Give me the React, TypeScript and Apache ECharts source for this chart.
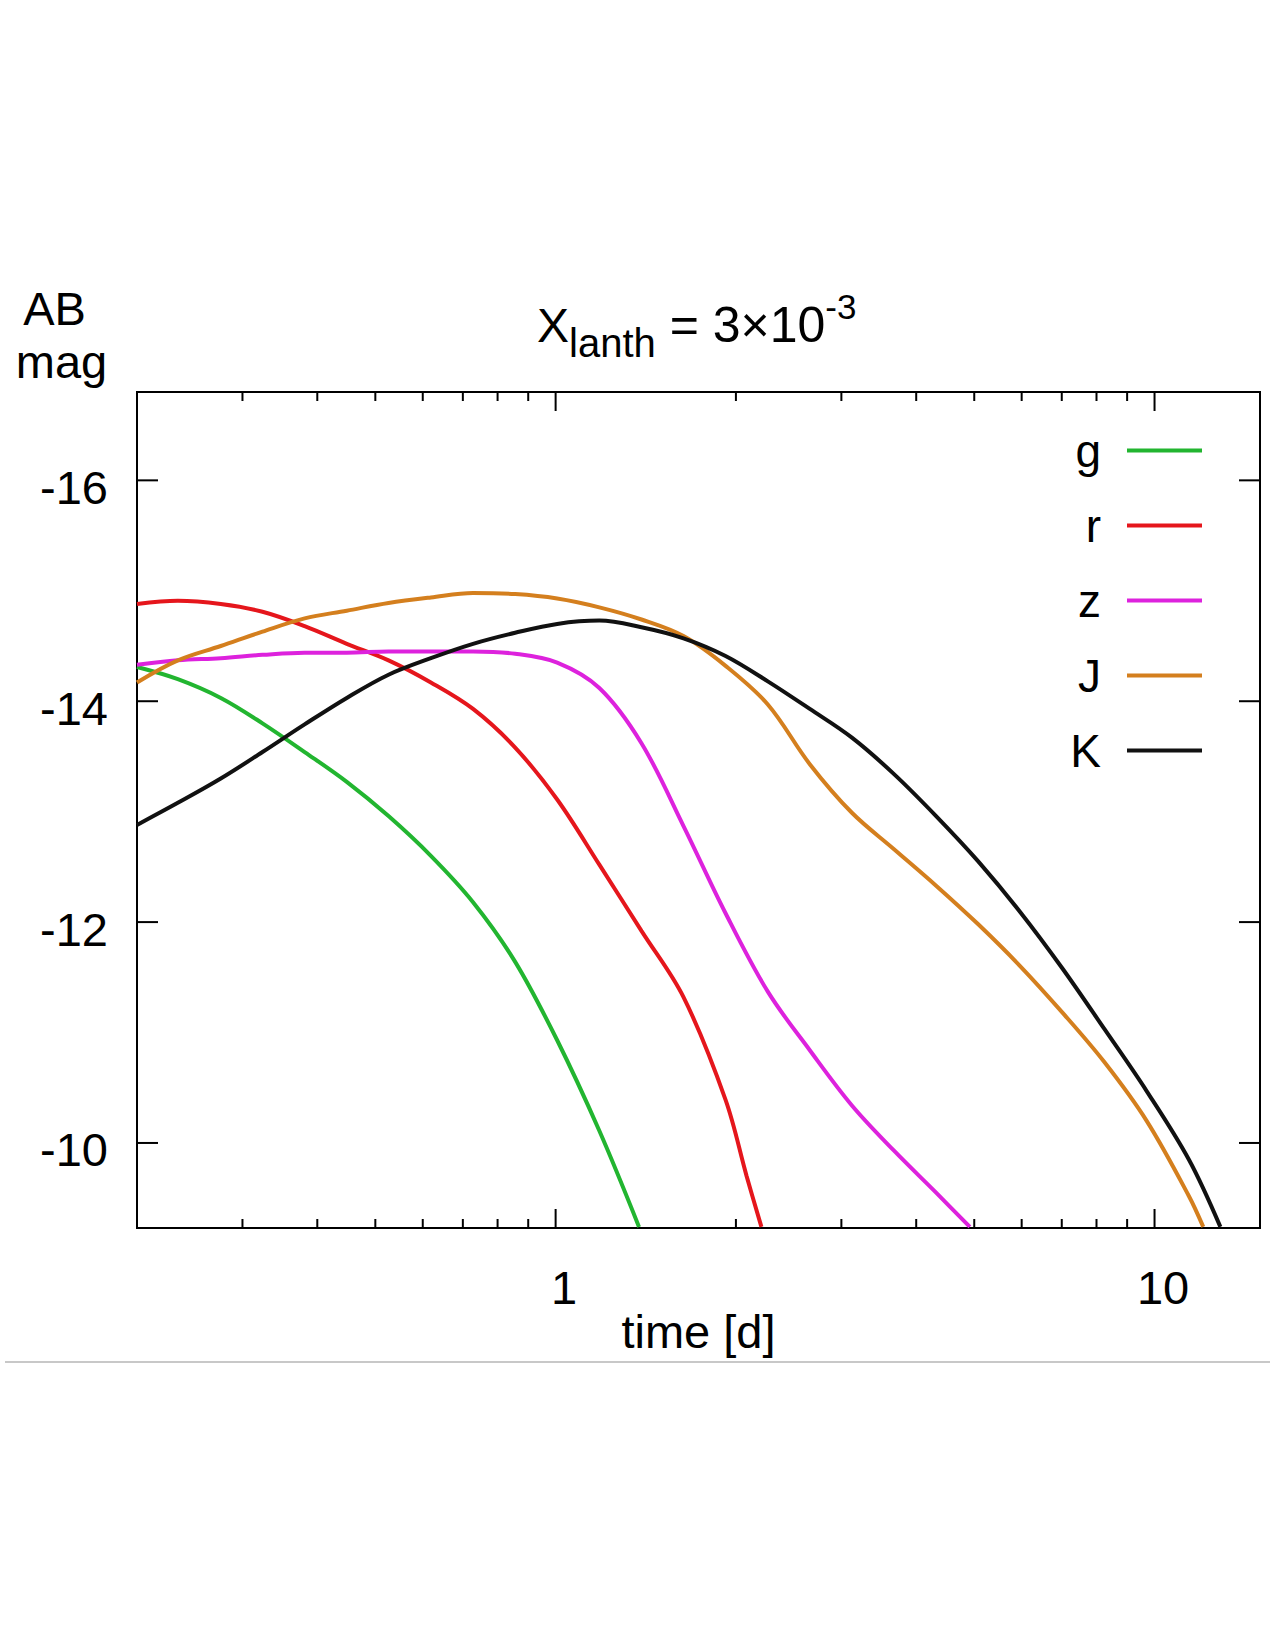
import { useEffect, useRef } from "react";
import * as echarts from "echarts";

// Axis extents: time in days (log scale), AB magnitude (brighter at the top)
const T_MIN = 0.2;
const T_MAX = 15;
const MAG_TOP = -16.8;
const MAG_BOTTOM = -9.23;

const X_MAJOR = [1, 10];
const X_MINOR = [0.3, 0.4, 0.5, 0.6, 0.7, 0.8, 0.9, 2, 3, 4, 5, 6, 7, 8, 9];
const Y_TICKS = [-16, -14, -12, -10];

// Light curves per band (time in days, AB magnitude)
const G_TIME = [0.2, 0.234, 0.276, 0.324, 0.381, 0.448, 0.526, 0.619, 0.728, 0.856, 1.006, 1.183, 1.378];
const G_MAG = [-14.31, -14.2, -14.03, -13.8, -13.54, -13.27, -12.96, -12.6, -12.18, -11.64, -10.93, -10.11, -9.24];

const R_TIME = [0.2, 0.234, 0.276, 0.324, 0.381, 0.448, 0.526, 0.619, 0.728, 0.856, 1.006, 1.183, 1.391, 1.635, 1.922, 2.084, 2.206];
const R_MAG = [-14.88, -14.91, -14.88, -14.81, -14.68, -14.52, -14.37, -14.17, -13.93, -13.58, -13.11, -12.52, -11.92, -11.32, -10.39, -9.7, -9.24];

const Z_TIME = [0.2, 0.234, 0.276, 0.324, 0.381, 0.448, 0.526, 0.619, 0.728, 0.856, 1.006, 1.183, 1.391, 1.635, 1.922, 2.261, 2.657, 3.124, 3.673, 4.318, 4.916];
const Z_MAG = [-14.33, -14.37, -14.39, -14.42, -14.44, -14.44, -14.45, -14.45, -14.45, -14.43, -14.35, -14.12, -13.62, -12.87, -12.08, -11.37, -10.84, -10.34, -9.93, -9.55, -9.24];

const J_TIME = [0.2, 0.234, 0.276, 0.324, 0.381, 0.448, 0.526, 0.619, 0.728, 0.856, 1.006, 1.183, 1.391, 1.635, 1.922, 2.261, 2.657, 3.124, 3.673, 4.318, 5.077, 5.969, 7.019, 8.251, 9.701, 11.41, 12.06];
const J_MAG = [-14.17, -14.37, -14.5, -14.63, -14.75, -14.82, -14.89, -14.94, -14.98, -14.97, -14.93, -14.85, -14.74, -14.59, -14.32, -13.97, -13.43, -12.99, -12.66, -12.33, -11.98, -11.6, -11.18, -10.73, -10.2, -9.52, -9.24];

const K_TIME = [0.2, 0.234, 0.276, 0.324, 0.381, 0.448, 0.526, 0.619, 0.728, 0.856, 1.006, 1.183, 1.391, 1.635, 1.922, 2.261, 2.657, 3.124, 3.673, 4.318, 5.077, 5.969, 7.019, 8.251, 9.701, 11.41, 12.88];
const K_MAG = [-12.88, -13.08, -13.3, -13.54, -13.79, -14.03, -14.24, -14.39, -14.52, -14.62, -14.7, -14.73, -14.67, -14.57, -14.41, -14.18, -13.93, -13.67, -13.34, -12.96, -12.55, -12.09, -11.58, -11.03, -10.47, -9.85, -9.24];

const BANDS = [
  { name: "g", time: G_TIME, mag: G_MAG, color: "#22b530" },
  { name: "r", time: R_TIME, mag: R_MAG, color: "#e5161c" },
  { name: "z", time: Z_TIME, mag: Z_MAG, color: "#dd22dd" },
  { name: "J", time: J_TIME, mag: J_MAG, color: "#d47f1e" },
  { name: "K", time: K_TIME, mag: K_MAG, color: "#111111" },
];

const FONT = '"Liberation Sans", Arial, Helvetica, sans-serif';

const isDecade = (v: number) => {
  const l = Math.log10(v);
  return Math.abs(l - Math.round(l)) < 1e-6;
};

const isEvenMag = (v: number) =>
  Math.abs(v - Math.round(v)) < 1e-6 && Math.round(v) % 2 === 0;

export default function App() {
  const ref = useRef<HTMLDivElement>(null);

  useEffect(() => {
    if (!ref.current) return;
    const chart = echarts.init(ref.current, null, { renderer: "svg" });

    const lineSeries = BANDS.map((b) => ({
      name: b.name,
      type: "line",
      data: b.time.map((t, i) => [t, b.mag[i]]),
      symbol: "none",
      smooth: 0.35,
      clip: true,
      z: 3,
      lineStyle: { color: b.color, width: 4 },
      itemStyle: { color: b.color },
    }));

    const tickStyle = { stroke: "#000", lineWidth: 2 };
    const labelText = { fontFamily: FONT, fontSize: 47, color: "#000" };

    chart.setOption({
      animation: false,
      backgroundColor: "#ffffff",
      textStyle: { fontFamily: FONT, color: "#000" },
      title: {
        text: "{x|X}{sub|lanth}{m| = 3×10}{sup|-3}",
        left: 537,
        top: 304,
        padding: 0,
        textStyle: {
          fontFamily: FONT,
          fontWeight: "normal",
          rich: {
            x: { fontFamily: FONT, fontSize: 48, lineHeight: 48, color: "#000", padding: [12, 0, 20, 0] },
            sub: { fontFamily: FONT, fontSize: 40, lineHeight: 40, color: "#000", padding: [34, 0, 6, 0] },
            m: { fontFamily: FONT, fontSize: 50, lineHeight: 50, color: "#000", padding: [11, 0, 19, 0] },
            sup: { fontFamily: FONT, fontSize: 35, lineHeight: 35, color: "#000", padding: [0, 0, 45, 0] },
          },
        },
      },
      legend: {
        data: BANDS.map((b) => b.name),
        orient: "vertical",
        right: 71,
        top: 415,
        align: "right",
        padding: 0,
        itemWidth: 75,
        itemHeight: 46,
        itemGap: 4,
        selectedMode: false,
        itemStyle: { opacity: 0 },
        lineStyle: { width: 4 },
        textStyle: {
          fontFamily: FONT,
          fontSize: 46,
          lineHeight: 30,
          color: "#000",
          width: 40,
          align: "right",
          padding: [41, 21, 0, 0],
        },
      },
      grid: {
        left: 137,
        right: 15,
        top: 392,
        bottom: 422,
        show: true,
        borderColor: "#000",
        borderWidth: 2,
        backgroundColor: "transparent",
      },
      xAxis: {
        type: "log",
        logBase: 10,
        min: T_MIN,
        max: T_MAX,
        axisLine: { show: false },
        axisTick: { show: false },
        splitLine: { show: false },
        minorTick: { show: false },
        axisLabel: {
          formatter: (v: number) => (isDecade(v) ? `{v|${Math.round(v)}}` : ""),
          ...labelText,
          margin: 36,
          rich: { v: { ...labelText, padding: [0, 0, 0, 17] } },
        },
        name: "time [d]",
        nameLocation: "middle",
        nameGap: 80,
        nameMoveOverlap: false,
        nameTextStyle: { ...labelText },
      },
      yAxis: {
        type: "value",
        inverse: true,
        min: MAG_TOP,
        max: MAG_BOTTOM,
        interval: 0.4,
        axisLine: { show: false },
        axisTick: { show: false },
        splitLine: { show: false },
        axisLabel: {
          formatter: (v: number) => (isEvenMag(v) ? `{v|${Math.round(v)}}` : ""),
          ...labelText,
          margin: 29,
          rich: { v: { ...labelText, lineHeight: 47, padding: [14, 0, 0, 0] } },
        },
      },
      graphic: [
        {
          type: "text",
          x: 54.5,
          y: 308,
          style: { text: "AB", font: `47px ${FONT}`, fill: "#000", align: "center", verticalAlign: "middle" },
        },
        {
          type: "text",
          x: 61.5,
          y: 361,
          style: { text: "mag", font: `47px ${FONT}`, fill: "#000", align: "center", verticalAlign: "middle" },
        },
        {
          type: "line",
          shape: { x1: 5, y1: 1362, x2: 1270, y2: 1362 },
          style: { stroke: "#c8c8c8", lineWidth: 2 },
        },
      ],
      series: [
        ...lineSeries,
        {
          // time ticks, drawn inward on the bottom and top edges
          type: "custom",
          silent: true,
          z: 5,
          data: [
            ...X_MINOR.map((t) => [t, MAG_BOTTOM, 0]),
            ...X_MAJOR.map((t) => [t, MAG_BOTTOM, 1]),
          ],
          renderItem: (_params: any, api: any) => {
            const t = api.value(0);
            const len = api.value(2) ? 19 : 9;
            const b = api.coord([t, MAG_BOTTOM]);
            const tp = api.coord([t, MAG_TOP]);
            return {
              type: "group",
              children: [
                { type: "line", shape: { x1: b[0], y1: b[1], x2: b[0], y2: b[1] - len }, style: tickStyle },
                { type: "line", shape: { x1: tp[0], y1: tp[1], x2: tp[0], y2: tp[1] + len }, style: tickStyle },
              ],
            };
          },
        },
        {
          // magnitude ticks, drawn inward on the left and right edges
          type: "custom",
          silent: true,
          z: 5,
          data: Y_TICKS.map((m) => [T_MIN, m]),
          renderItem: (_params: any, api: any) => {
            const m = api.value(1);
            const l = api.coord([T_MIN, m]);
            const r = api.coord([T_MAX, m]);
            return {
              type: "group",
              children: [
                { type: "line", shape: { x1: l[0], y1: l[1], x2: l[0] + 21, y2: l[1] }, style: tickStyle },
                { type: "line", shape: { x1: r[0], y1: r[1], x2: r[0] - 21, y2: r[1] }, style: tickStyle },
              ],
            };
          },
        },
      ],
    });

    return () => chart.dispose();
  }, []);

  return (
    <div
      ref={ref}
      style={{ position: "absolute", left: 0, top: 0, width: 1275, height: 1650, background: "#fff" }}
    />
  );
}
